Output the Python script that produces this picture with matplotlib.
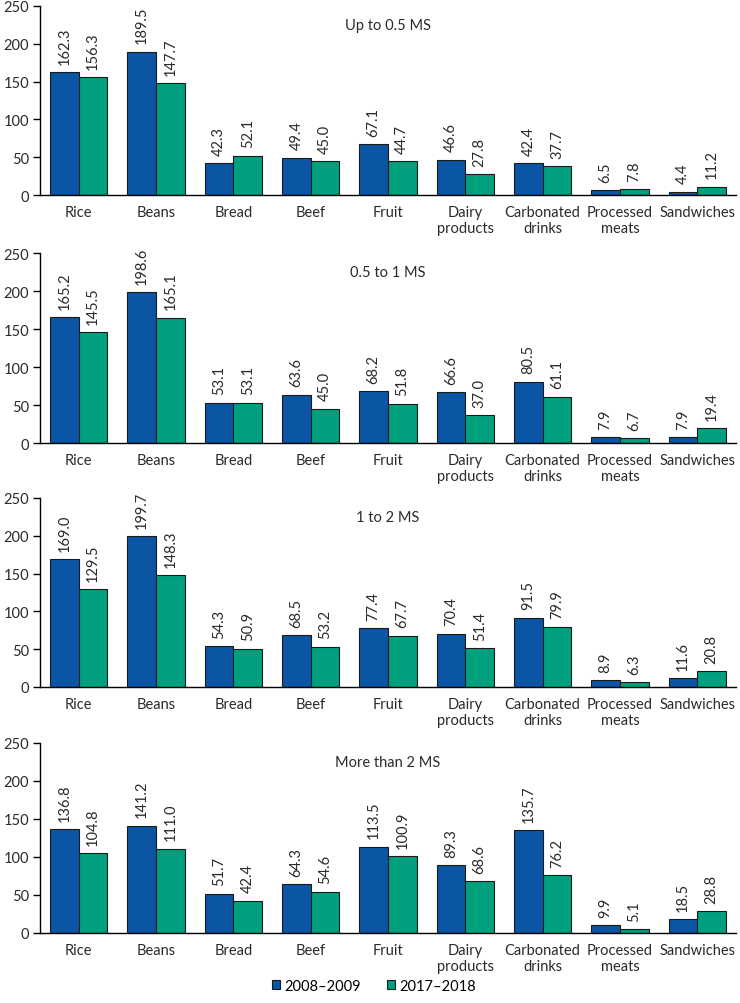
import matplotlib.pyplot as plt
import numpy as np

categories = ['Rice', 'Beans', 'Bread', 'Beef', 'Fruit', 'Dairy\nproducts',
              'Carbonated\ndrinks', 'Processed\nmeats', 'Sandwiches']
panels = ['Up to 0.5 MS', '0.5 to 1 MS', '1 to 2 MS', 'More than 2 MS']
series = ['2008\u20132009', '2017\u20132018']

vals_2008 = [
    [162.3, 189.5, 42.3, 49.4, 67.1, 46.6, 42.4, 6.5, 4.4],
    [165.2, 198.6, 53.1, 63.6, 68.2, 66.6, 80.5, 7.9, 7.9],
    [169.0, 199.7, 54.3, 68.5, 77.4, 70.4, 91.5, 8.9, 11.6],
    [136.8, 141.2, 51.7, 64.3, 113.5, 89.3, 135.7, 9.9, 18.5],
]
vals_2017 = [
    [156.3, 147.7, 52.1, 45.0, 44.7, 27.8, 37.7, 7.8, 11.2],
    [145.5, 165.1, 53.1, 45.0, 51.8, 37.0, 61.1, 6.7, 19.4],
    [129.5, 148.3, 50.9, 53.2, 67.7, 51.4, 79.9, 6.3, 20.8],
    [104.8, 111.0, 42.4, 54.6, 100.9, 68.6, 76.2, 5.1, 28.8],
]

plt.rcParams['font.family'] = ['Lato', 'DejaVu Sans']
plt.rcParams['font.size'] = 10.5

blue = '#0a56a5'
green = '#00a07e'
txt = '#2a2a2a'

fig = plt.figure(figsize=(7.4, 10.04), dpi=100)
W, H = 740, 1004
# (top px, zero px) of each panel
rows = [(7, 196), (254, 444), (499, 688), (744, 934)]
left, right = 40, 736

x = np.arange(len(categories))
width = 0.37

for p, (top, bot) in enumerate(rows):
    ax = fig.add_axes([left / W, 1 - bot / H, (right - left) / W, (bot - top) / H])
    b1 = ax.bar(x - width / 2, vals_2008[p], width, color=blue, edgecolor='#1a1a1a',
                linewidth=0.8, label=series[0])
    b2 = ax.bar(x + width / 2, vals_2017[p], width, color=green, edgecolor='#1a1a1a',
                linewidth=0.8, label=series[1])
    for bars in (b1, b2):
        ax.bar_label(bars, labels=[f'{v:.1f}' for v in bars.datavalues],
                     rotation=90, padding=6, fontsize=10.5, color=txt)
    ax.set_xlim(-0.5, len(categories) - 0.5)
    ax.set_ylim(0, 250)
    ax.set_yticks([0, 50, 100, 150, 200, 250])
    ax.set_xticks(x)
    ax.set_xticklabels(categories, fontsize=10.5, color=txt)
    ax.tick_params(axis='x', length=0, pad=7)
    ax.tick_params(axis='y', length=5, width=1, pad=3, labelsize=10.5, labelcolor=txt)
    ax.spines['top'].set_visible(False)
    ax.spines['right'].set_visible(False)
    ax.spines['left'].set_linewidth(1)
    ax.spines['bottom'].set_linewidth(1)
    ax.text(0.5, 0.935, panels[p], transform=ax.transAxes, ha='center', va='top',
            fontsize=10.5, color=txt)
    if p == 3:
        handles = [b1, b2]

fig.legend(handles, series, loc='center', bbox_to_anchor=(0.505, 1 - 987 / H),
           ncol=2, frameon=False, fontsize=10.5, handlelength=0.55, handleheight=0.55,
           columnspacing=1.8, handletextpad=0.3)

fig.savefig('out.png', dpi=100)
